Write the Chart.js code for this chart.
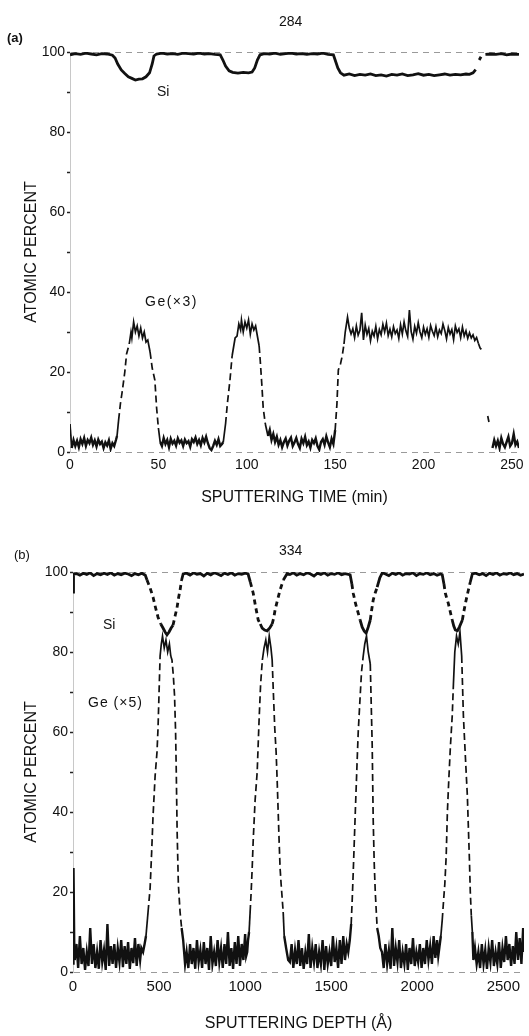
<!DOCTYPE html>
<html>
<head>
<meta charset="utf-8">
<script src="https://cdn.jsdelivr.net/npm/chart.js@4.4.1/dist/chart.umd.min.js"></script>
<style>
  html, body { margin: 0; padding: 0; background: #fff; }
  #pagina { position: relative; width: 529px; height: 1036px; overflow: hidden; font-family: "Liberation Sans", Arial, sans-serif; color: #111; }
  canvas { position: absolute; left: 0; }
  #graficoA { top: 0; }
  #graficoB { top: 510px; }
  .rotulo { position: absolute; font-size: 14px; line-height: 1; white-space: nowrap; }
</style>
</head>
<body>
<div id="pagina">
  <canvas id="graficoA" width="529" height="510"></canvas>
  <canvas id="graficoB" width="529" height="526"></canvas>

  <div class="rotulo" style="left:7px; top:31px; font-size:13px; font-weight:bold">(a)</div>
  <div class="rotulo" style="left:279px; top:14px">284</div>
  <div class="rotulo" style="left:157px; top:84px">Si</div>
  <div class="rotulo" style="left:145px; top:294px; letter-spacing:1.5px">Ge(×3)</div>

  <div class="rotulo" style="left:14px; top:548px; font-size:13px">(b)</div>
  <div class="rotulo" style="left:279px; top:543px">334</div>
  <div class="rotulo" style="left:103px; top:617px">Si</div>
  <div class="rotulo" style="left:88px; top:695px; letter-spacing:1px">Ge (×5)</div>
</div>

<script>
// 1. Dados (x, y em % atômico)
const yTicks = [0, 10, 20, 30, 40, 50, 60, 70, 80, 90, 100];
const yRotulos = [0, 20, 40, 60, 80, 100];
const tempoTicks = [0, 50, 100, 150, 200, 250];          // min
const profundidadeTicks = [0, 500, 1000, 1500, 2000, 2500]; // Å

// painel (a): tempo de sputtering (min)
const siA = [[0,99.3],[3,99.6],[6,99.4],[9,99.7],[12,99.5],[15,99.3],[18,99.6],[21,99.5],[24,99.2],[25.5,98.5],[27,97],[29,95.5],[31,94.6],[33,93.8],[35,93.4],[37,93],[39,93.2],[41,93.3],[43,93.8],[45,94.8],[46.5,97],[47.5,99],[49,99.5],[52,99.7],[55,99.5],[58,99.6],[61,99.4],[64,99.7],[67,99.6],[70,99.5],[73,99.7],[76,99.5],[79,99.6],[82,99.4],[85,99.3],[86.5,98],[88,96.5],[90,95.3],[92,94.9],[95,94.7],[98,94.9],[101,94.8],[103,95],[104.5,96],[106,98],[107.5,99.3],[110,99.6],[113,99.5],[116,99.7],[119,99.4],[122,99.6],[125,99.7],[128,99.5],[131,99.6],[134,99.4],[137,99.6],[140,99.5],[143,99.7],[146,99.4],[149,99.3],[150,98],[151.5,96],[153,94.8],[155,94.2],[158,94.5],[161,94.1],[164,94.4],[167,94.2],[170,94.5],[173,94.1],[176,94.3],[179,94],[182,94.4],[185,94.2],[188,94.5],[191,94.1],[194,94.3],[197,94.6],[200,94.2],[203,94.4],[206,94.1],[209,94.3],[212,94.5],[215,94.2],[218,94.4],[221,94.3],[224,94.5],[226,94.4],[228,94.8],[229.5,95.6],[230.5,null],[231.5,98],[232.5,98.8],[233.5,null],[235,99.4],[238,99.5],[241,99.4],[244,99.6],[247,99.3],[250,99.5],[254,99.4]];

const geA = [[0,7],[1,1],[2,3],[3,1.5],[4,2.8],[5,1.2],[6,3.2],[7,2],[8,3.5],[9,1.5],[10,3],[11,2.2],[12,3.6],[13,1.8],[14,2.9],[15,1.4],[16,3.1],[17,2],[18,2.6],[19,1],[20,2.4],[21,1.6],[22,2.9],[23,0.8],[24,2.2],[25,1.5],[26,3],[26.6,4],[27.5,8],[28.5,12],[29.5,15],[31,20],[32,24.5],[33.5,27],[34.5,30],[35,28.5],[36,32.5],[37,30],[38,31.5],[39,29],[40,31],[41,28.5],[42,30],[43,27.5],[44,28],[45.3,25],[46.5,21],[48,18],[49,11],[50,6],[51,2.5],[52,1.5],[53,3.5],[54,2],[55,3],[56,1.2],[57,3.3],[58,2.1],[59,2.8],[60,1.6],[61,3.4],[62,2.3],[63,2.9],[64,1.5],[65,3.1],[66,2.2],[67,2.7],[68,1.3],[69,3.2],[70,2.5],[71,3.6],[72,2],[73,3],[74,1.7],[75,3.5],[76,2.4],[77,3.8],[78,2.2],[79,1],[80,0.5],[81,1.5],[82,2.8],[83,1.8],[84,3.2],[85,1.5],[86,2],[86.7,2.5],[88,7],[89,12],[90.5,18],[91.7,24],[93.4,28.5],[94.5,29],[95.5,32],[96.5,30.5],[97,33],[98,30],[99,32.5],[100,31],[101,33],[102,29.5],[103,32],[104,30.5],[105,31.5],[106,29],[107,26.5],[107.6,23],[108.5,17],[109.3,11],[110.5,7],[112,4],[113,5.5],[114,3],[115,4.5],[116,2.5],[117,3.8],[118,1.8],[119,3],[120,1.2],[121,2.5],[122,3.4],[123,1.6],[124,2.8],[125,3.6],[126,1.5],[127,2.4],[128,3.5],[129,2],[130,1],[131,3.3],[132,2.2],[133,3.8],[134,1.7],[135,2.6],[136,1.1],[137,3],[138,2.2],[139,3.4],[140,1.5],[141,0.6],[142,2.5],[143,3.2],[144,1.8],[145,3.9],[146,2.4],[147,1.2],[148,3.3],[149,2],[150,5.5],[151,12],[151.8,20.5],[153,22],[154,24],[155,27],[155.7,30],[157,33.7],[158,31],[159,29.5],[160,30.8],[161,28.6],[162,31.5],[163,29.2],[164,30.4],[165,34.8],[166,28],[167,31.7],[168,29.4],[169,30.9],[170,27.8],[171,30.2],[172,29],[173,31.4],[174,28.3],[175,30.6],[176,29.3],[177,31.9],[178,30],[179,32.2],[180,29.1],[181,30.7],[182,28.8],[183,31.3],[184,29.6],[185,30.5],[186,28.4],[187,31.8],[188,29.5],[189,32.5],[190,30.3],[191,28.9],[192,35.5],[193,30.1],[194,28.2],[195,31.4],[196,29.7],[197,32.3],[198,30],[199,28.6],[200,31.2],[201,29.4],[202,30.8],[203,28.7],[204,31.6],[205,30.2],[206,29.1],[207,31.3],[208,28.8],[209,30.5],[210,29.6],[211,32],[212,30.4],[213,28.3],[214,31.1],[215,29.5],[216,30.6],[217,28.1],[218,31.5],[219,29.9],[220,30.8],[221,28.6],[222,31.2],[223,29],[224,30.3],[225,28.4],[226,29.8],[227,28.5],[228,29.3],[229,27.9],[230,28.6],[231,27.2],[232,26],[233,25.5],[234,null],[236.3,9],[237,7.5],[238,null],[239,1],[240,3],[241,1.5],[242,2.8],[243,1],[244,3.5],[245,2],[246,1.2],[247,2.5],[248,3.8],[249,1.5],[250,2.2],[251,4.5],[252,1.8],[253,2.6],[254,1]];

// painel (b): profundidade (Å)
const siB = [[0,95],[3,99.5],[20,99.6],[40,99.2],[60,99.7],[80,99.4],[100,99.8],[120,99.1],[140,99.6],[160,99.3],[180,99.7],[200,99.4],[220,99.8],[240,99.2],[260,99.6],[280,99.3],[300,99.7],[320,99.5],[340,99.1],[360,99.6],[380,99.3],[400,99.7],[420,99.2],[430,98],[448,96],[465,93.7],[480,91],[494,88.7],[510,87],[523,86],[535,85],[546,84.3],[558,85],[570,86],[581,86.7],[593,89],[604,91],[613,93.5],[622,95.5],[631,98],[640,99.5],[660,99.7],[680,99.2],[700,99.8],[720,99.4],[740,99.6],[760,99],[780,99.7],[800,99.3],[820,99.8],[840,99.5],[860,99.1],[880,99.7],[900,99.4],[920,99.8],[940,99.2],[960,99.6],[980,99.4],[1000,99.7],[1017,99.5],[1030,97.5],[1047,94.7],[1060,91.5],[1076,88],[1088,87],[1099,86],[1113,85.5],[1128,85.3],[1143,86],[1157,87],[1166,88.5],[1174,90.5],[1188,93],[1203,95.5],[1222,98],[1244,99.6],[1260,99.4],[1280,99.8],[1300,99.2],[1320,99.6],[1340,99.3],[1360,99.8],[1380,99.5],[1400,99],[1420,99.7],[1440,99.4],[1460,99.8],[1480,99.2],[1500,99.6],[1520,99.4],[1540,99.8],[1560,99.3],[1580,99.6],[1600,99.4],[1610,99.3],[1620,97],[1628,94.7],[1642,92],[1657,89.7],[1668,88],[1680,86.2],[1692,85.2],[1703,84.7],[1715,86.2],[1727,88],[1735,90.5],[1744,93],[1755,94.7],[1767,96.2],[1782,98.5],[1797,99.8],[1815,99.5],[1835,99.1],[1855,99.7],[1875,99.4],[1895,99.8],[1915,99.2],[1935,99.6],[1955,99.5],[1975,99.8],[1995,99.1],[2015,99.6],[2035,99.4],[2055,99.8],[2075,99.3],[2095,99.6],[2115,99.2],[2135,99.5],[2145,99.3],[2155,97],[2163,94.7],[2172,93.3],[2180,92.2],[2192,90],[2203,88],[2212,86.5],[2221,85.5],[2233,85.3],[2245,86.3],[2262,88],[2270,90],[2279,92],[2288,93.8],[2297,95.5],[2308,97.5],[2320,99.5],[2340,99.7],[2360,99.3],[2380,99.6],[2400,99.1],[2420,99.7],[2440,99.4],[2460,99.8],[2480,99.2],[2500,99.6],[2520,99.4],[2540,99.8],[2560,99.3],[2580,99.6],[2600,99.2],[2620,99.5]];

const geB = [[0,2],[5,26],[10,3],[20,7],[30,1],[40,9],[50,2],[60,6],[70,0.5],[80,5],[90,1.5],[100,11],[110,2],[120,7],[130,1],[140,5],[150,0.8],[160,8],[170,2.5],[180,5.5],[190,0.5],[200,12],[210,1.5],[220,6.5],[230,2],[240,7],[250,1],[260,6],[270,2.5],[280,8],[290,1.2],[300,6.5],[310,2],[320,7.5],[330,0.8],[340,6],[350,2.2],[360,8.5],[370,1.5],[380,7],[390,3],
  [397,6],[407,5],[416,7],[424,9],[436,15],[448,21],[457,30],[465,39],[477,49],[488,55],[494,61],[500,70],[506,79],[513,82],[520,84],[530,81],[540,83],[550,80],[560,82],[568,79],[575,78],[583,74],[590,69],[596,60],[600,50],[605,35],[612,22],[622,15],[631,11],[640,8],[651,2],
  [660,5],[670,1],[680,7],[690,2],[700,6],[710,0.8],[720,8],[730,2.5],[740,5.5],[750,1],[760,7.5],[770,2],[780,6],[790,0.5],[800,9],[810,2],[820,5],[830,1.5],[840,8],[850,2.5],[860,6],[870,1],[880,7],[890,2],[900,10],[910,1.5],[920,6],[930,0.8],[940,7.5],[950,2],[960,9],[970,1.5],[980,7],[990,3],[1000,9.5],[1006,4],
  [1012,5],[1017,8],[1023,10],[1029,15],[1035,20],[1041,26],[1047,33],[1058,43],[1070,50],[1081,63],[1090,72],[1100,78],[1110,81],[1120,83],[1130,80],[1140,84],[1150,81],[1157,78],[1163,71],[1172,61],[1180,55],[1186,48],[1192,40],[1198,32],[1203,26],[1209,22],[1221,15],[1227,9],[1238,6],[1250,3],
  [1260,2.5],[1270,7],[1280,1],[1290,5.5],[1300,2],[1310,8],[1320,1.5],[1330,6],[1340,0.8],[1350,5],[1360,2],[1370,9.5],[1380,1],[1390,6],[1400,2.5],[1410,7],[1420,1],[1430,5],[1440,2],[1450,8],[1460,0.5],[1470,6.5],[1480,2],[1490,5],[1500,1.5],[1510,9],[1520,2.5],[1530,6],[1540,1],[1550,8],[1560,2],[1570,9],[1580,3],[1590,7],
  [1599,5],[1608,8],[1616,12],[1622,18],[1628,25],[1640,40],[1650,52],[1657,60],[1667,68],[1676,75],[1686,79],[1695,82],[1705,84],[1715,80],[1727,77],[1733,66],[1738,57],[1744,38],[1750,27],[1756,20],[1762,15],[1767,11],[1776,9],[1785,6],
  [1795,5],[1805,1],[1815,7],[1825,2],[1835,5.5],[1845,0.8],[1855,11],[1865,1.5],[1875,6],[1885,2.5],[1895,8],[1905,1],[1915,5],[1925,2],[1935,7],[1945,0.5],[1955,6],[1965,2],[1975,8.5],[1985,1.5],[1995,5],[2005,2.5],[2015,7],[2025,1],[2035,6],[2045,2],[2055,8],[2065,3],[2075,6.5],[2085,2],[2095,9],[2105,3.5],[2115,8],
  [2122,4],[2128,6],[2137,9],[2145,13],[2153,18],[2160,22],[2168,29],[2175,40],[2183,48],[2192,56],[2203,64],[2210,72],[2218,80],[2228,84],[2238,82],[2248,85],[2258,79],[2268,64],[2277,56],[2285,49],[2291,44],[2297,36],[2303,28],[2308,20],[2314,14],[2320,10],[2326,3],
  [2335,6],[2345,2],[2355,5],[2365,1],[2375,7],[2385,2],[2395,5.5],[2405,0.8],[2415,6],[2425,2.5],[2435,8],[2445,1.5],[2455,5],[2465,2],[2475,7.5],[2485,1],[2495,6],[2505,2.5],[2515,9],[2525,3],[2535,7],[2545,1.5],[2555,6.5],[2565,2],[2575,10],[2585,3],[2595,8.5],[2605,2],[2615,11],[2620,5]];

// 2. Configuração comum
const fonte = '"Liberation Sans", Arial, sans-serif';
Chart.defaults.font.family = fonte;
Chart.defaults.color = '#111';

// bordas íngremes do perfil ficam tracejadas como no original escaneado
function tracejado(lo, hi, padrao) {
    return ctx => {
        const a = ctx.p0.parsed.y, b = ctx.p1.parsed.y;
        return (Math.min(a, b) > lo && Math.max(a, b) < hi) ? padrao : undefined;
    };
}

// ruído de fundo mais grosso (no original parece preenchido)
function espessura(limite, grossa, fina) {
    return ctx => Math.max(ctx.p0.parsed.y, ctx.p1.parsed.y) < limite ? grossa : fina;
}

const pontos = arr => arr.map(p => ({ x: p[0], y: p[1] }));

function montarGrafico(id, si, ge, cfg) {
    return new Chart(document.getElementById(id), {
        type: 'line',
        data: {
            datasets: [
                {
                    label: 'Si',
                    data: pontos(si),
                    borderColor: '#111',
                    borderWidth: 2.8,
                    pointRadius: 0,
                    spanGaps: false,
                    segment: { borderDash: tracejado(cfg.siDash[0], cfg.siDash[1], [5, 4]) }
                },
                {
                    label: cfg.geLabel,
                    data: pontos(ge),
                    borderColor: '#111',
                    borderWidth: 1.6,
                    pointRadius: 0,
                    spanGaps: false,
                    segment: {
                        borderDash: tracejado(cfg.geDash[0], cfg.geDash[1], [7, 4]),
                        borderWidth: espessura(cfg.ruido, 2.4, 1.7)
                    }
                }
            ]
        },
        options: {
            responsive: false,
            animation: false,
            events: [],
            layout: { padding: { top: cfg.topo, right: cfg.direita, bottom: 0, left: 0 } },
            plugins: { legend: { display: false }, tooltip: { enabled: false } },
            scales: {
                x: {
                    type: 'linear',
                    min: 0,
                    max: cfg.xMax,
                    afterBuildTicks: s => { s.ticks = cfg.xTicks.map(v => ({ value: v })); },
                    afterFit: s => { s.height = cfg.alturaX; },
                    grid: { display: false, drawTicks: false },
                    border: { display: false },
                    ticks: {
                        autoSkip: false, maxRotation: 0, padding: cfg.padX, color: '#111',
                        font: { size: cfg.fonteX },
                        callback: v => String(v)
                    },
                    title: { display: true, text: cfg.tituloX, color: '#111', font: { size: 16 }, padding: { top: 0, bottom: 3 } }
                },
                y: {
                    min: 0,
                    max: 100,
                    afterBuildTicks: s => { s.ticks = yTicks.map(v => ({ value: v })); },
                    afterFit: s => { s.width = cfg.larguraY; },
                    grid: {
                        color: c => (c.tick && (c.tick.value === 100 || c.tick.value === 0)) ? '#9a9a9a' : 'rgba(0,0,0,0)',
                        lineWidth: 1,
                        tickColor: '#222',
                        tickLength: 3,
                        tickWidth: 1.5
                    },
                    border: { display: true, color: '#c8c8c8', width: 1, dash: [6, 5] },
                    ticks: {
                        autoSkip: false,
                        padding: 2,
                        color: '#111',
                        font: { size: 14 },
                        callback: v => yRotulos.includes(v) ? String(v) : ''
                    },
                    title: { display: true, text: 'ATOMIC PERCENT', color: '#111', font: { size: 16 }, padding: { top: 22, bottom: 0 } }
                }
            }
        }
    });
}

// 3. Painel (a) e painel (b)
montarGrafico('graficoA', siA, geA, {
    geLabel: 'Ge(×3)',
    xMax: 254, xTicks: tempoTicks, tituloX: 'SPUTTERING TIME (min)',
    topo: 52, direita: 10, alturaX: 58, larguraY: 70, padX: 5, fonteX: 14,
    siDash: [200, 200], geDash: [5, 27.5], ruido: 6
});

montarGrafico('graficoB', siB, geB, {
    geLabel: 'Ge (×5)',
    xMax: 2620, xTicks: profundidadeTicks, tituloX: 'SPUTTERING DEPTH (Å)',
    topo: 62, direita: 5, alturaX: 64, larguraY: 73, padX: 6, fonteX: 15,
    siDash: [86.5, 98.5], geDash: [10, 80], ruido: 13
});
</script>
</body>
</html>
